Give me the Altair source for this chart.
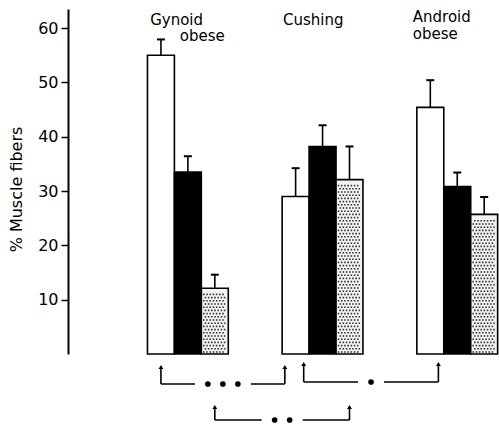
import altair as alt
import pandas as pd

# Groups and the three fiber types shown in each cluster
groups = ["Gynoid obese", "Cushing", "Android obese"]
fiber_types = ["I", "IIA", "IIB"]

# Mean % of muscle fibers, one list per fiber type (in group order)
type_i = [55.0, 29.0, 45.4]
type_iia = [33.5, 38.2, 30.8]
type_iib = [12.1, 32.1, 25.7]

# Upper end of each error bar (mean + SEM)
type_i_err = [57.9, 34.2, 50.4]
type_iia_err = [36.4, 42.1, 33.4]
type_iib_err = [14.6, 38.2, 28.9]

y_ticks = [10, 20, 30, 40, 50, 60]

# Significant differences: (group a, group b, fiber type index, marker count)
comparisons = [(0, 1, 0, 3), (1, 2, 0, 1), (0, 1, 2, 2)]

# ---- layout (in bar-width units along x) ----
W, H = 431, 345
X_MAX = 16.0
Y_MAX = 63.5
UNIT = W / X_MAX
PX_PER_VAL = H / Y_MAX
GROUP_START = 2.95
GROUP_STEP = 5.0

means = [type_i, type_iia, type_iib]
errs = [type_i_err, type_iia_err, type_iib_err]

rows = []
for g, name in enumerate(groups):
    for b, ft in enumerate(fiber_types):
        left = GROUP_START + g * GROUP_STEP + b
        c = left + 0.5
        rows.append(dict(group=name, fiber=ft, x=left, x2=left + 1, c=c,
                         cl=c - 4 / UNIT, cr=c + 4 / UNIT,
                         value=means[b][g], err=errs[b][g]))
bars_df = pd.DataFrame(rows)

# Dot screen used as the fill texture of the third fiber type
STEP_PX = 3.2
texture = []
for r in rows:
    if r["fiber"] != fiber_types[2]:
        continue
    ncols = int((UNIT - 3) / STEP_PX)
    nrows = int((r["value"] * PX_PER_VAL - 3) / STEP_PX)
    for j in range(nrows):
        yv = (2 + j * STEP_PX) / PX_PER_VAL
        shift = STEP_PX / 2 if j % 2 else 0
        for i in range(ncols):
            xpx = 2.5 + shift + i * STEP_PX
            if xpx > UNIT - 2:
                continue
            texture.append(dict(x=r["x"] + xpx / UNIT, y=yv))
texture_df = pd.DataFrame(texture)

xs = alt.Scale(domain=[0, X_MAX], nice=False, zero=False)
ys = alt.Scale(domain=[0, Y_MAX], nice=False)

base = alt.Chart(bars_df)

bars = base.mark_rect(stroke="black", strokeWidth=1.6).encode(
    x=alt.X("x:Q", scale=xs, axis=None),
    x2="x2:Q",
    y=alt.Y("value:Q", scale=ys, axis=alt.Axis(
        values=y_ticks, title="% Muscle fibers", grid=False,
        tickSize=7, tickWidth=1.5, tickColor="black",
        domainColor="black", domainWidth=2,
        labelFontSize=16, labelColor="black", labelPadding=3,
        labelFont="DejaVu Sans", titleFont="DejaVu Sans",
        titleFontSize=16, titleFontWeight="normal", titleColor="black",
        titleX=-52, titleY=180, titleAlign="center", titleBaseline="middle")),
    y2=alt.datum(0),
    fill=alt.Fill("fiber:N", scale=alt.Scale(domain=fiber_types,
                  range=["white", "black", "#f2f2f2"]), legend=None),
)

texture_layer = alt.Chart(texture_df).mark_square(
    color="#3a3a3a", size=2.6, opacity=1).encode(
    x=alt.X("x:Q", scale=xs), y=alt.Y("y:Q", scale=ys))

err_line = base.mark_rule(color="black", strokeWidth=1.6).encode(
    x=alt.X("c:Q", scale=xs), y=alt.Y("value:Q", scale=ys), y2="err:Q")
err_cap = base.mark_rule(color="black", strokeWidth=2).encode(
    x=alt.X("cl:Q", scale=xs), x2="cr:Q", y=alt.Y("err:Q", scale=ys))

# Group labels (one text line per row)
label_lines = []
line_layout = {
    0: [("Gynoid", 0.1, 16), ("obese", 1.2, 32)],
    1: [("Cushing", 0.03, 16)],
    2: [("Android", -0.15, 13), ("obese", -0.15, 30)],
}
for g in range(len(groups)):
    for txt, dx, py in line_layout[g]:
        label_lines.append(dict(t=txt, x=GROUP_START + g * GROUP_STEP + dx, py=py))
labels_df = pd.DataFrame(label_lines)
labels = alt.Chart(labels_df).mark_text(
    align="left", baseline="alphabetic", fontSize=15, font="DejaVu Sans",
    color="black").encode(
    x=alt.X("x:Q", scale=xs), y=alt.Y("py:Q", scale=None), text="t:N")

# Significance brackets below the bars
nudges = [(0.0, -0.4), (0.3, 0.3), (0.0, 0.0)]
bracket_px = [(356, 375), (353, 373), (396, 411)]
DOT_STEP = 15 / UNIT
GAP = 13 / UNIT
segs, verts, heads, dots = [], [], [], []
for (ga, gb, ft, n), (na, nb), (top, bot) in zip(comparisons, nudges, bracket_px):
    xa = GROUP_START + ga * GROUP_STEP + ft + 0.5 + na
    xb = GROUP_START + gb * GROUP_STEP + ft + 0.5 + nb
    mid = (xa + xb) / 2
    half = (n - 1) / 2 * DOT_STEP + GAP
    segs += [dict(x=xa, x2=mid - half, py=bot), dict(x=mid + half, x2=xb, py=bot)]
    for xv in (xa, xb):
        verts.append(dict(x=xv, top=top + 2, bot=bot))
        heads.append(dict(x=xv, py=top + 2))
    for k in range(n):
        dots.append(dict(x=mid + (k - (n - 1) / 2) * DOT_STEP, py=bot))

seg_layer = alt.Chart(pd.DataFrame(segs)).mark_rule(color="black", strokeWidth=1.6).encode(
    x=alt.X("x:Q", scale=xs), x2="x2:Q", y=alt.Y("py:Q", scale=None))
vert_layer = alt.Chart(pd.DataFrame(verts)).mark_rule(color="black", strokeWidth=1.6).encode(
    x=alt.X("x:Q", scale=xs), y=alt.Y("top:Q", scale=None), y2="bot:Q")
head_layer = alt.Chart(pd.DataFrame(heads)).mark_point(
    shape="triangle-up", filled=True, color="black", size=24, opacity=1).encode(
    x=alt.X("x:Q", scale=xs), y=alt.Y("py:Q", scale=None))
dot_layer = alt.Chart(pd.DataFrame(dots)).mark_circle(color="black", size=32, opacity=1).encode(
    x=alt.X("x:Q", scale=xs), y=alt.Y("py:Q", scale=None))

chart = alt.layer(
    bars, texture_layer, err_line, err_cap, labels,
    seg_layer, vert_layer, head_layer, dot_layer
).properties(
    width=W, height=H,
    autosize=alt.AutoSizeParams(type="none"),
    padding={"left": 68, "top": 9, "right": 0, "bottom": 72},
    background="white",
).configure_view(stroke=None)

chart.save("out.html", embed_options={"renderer": "svg", "actions": False})
